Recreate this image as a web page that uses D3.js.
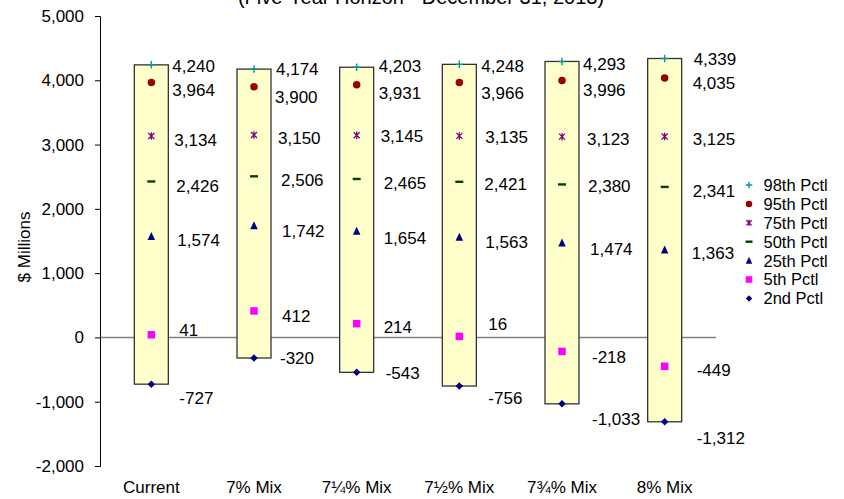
<!DOCTYPE html>
<html>
<head>
<meta charset="utf-8">
<script src="https://cdn.jsdelivr.net/npm/d3@7"></script>
<style>
  html, body { margin: 0; padding: 0; background: #fff; }
  svg { display: block; font-family: "Liberation Sans", Arial, sans-serif; }
</style>
</head>
<body>
<svg id="chart" width="844" height="499"></svg>
<script>
// Percentile outcomes by portfolio mix ($ millions)
const categories = ["Current", "7% Mix", "7\u00BC% Mix", "7\u00BD% Mix", "7\u00BE% Mix", "8% Mix"];
const pctl98 = [4240, 4174, 4203, 4248, 4293, 4339];
const pctl95 = [3964, 3900, 3931, 3966, 3996, 4035];
const pctl75 = [3134, 3150, 3145, 3135, 3123, 3125];
const pctl50 = [2426, 2506, 2465, 2421, 2380, 2341];
const pctl25 = [1574, 1742, 1654, 1563, 1474, 1363];
const pctl5  = [41, 412, 214, 16, -218, -449];
const pctl2  = [-727, -320, -543, -756, -1033, -1312];
const yTicks = [-2000, -1000, 0, 1000, 2000, 3000, 4000, 5000];
const seriesNames = ["98th Pctl", "95th Pctl", "75th Pctl", "50th Pctl", "25th Pctl", "5th Pctl", "2nd Pctl"];

const series = [
  { name: seriesNames[0], values: pctl98, shape: "plus",     color: "#009999" },
  { name: seriesNames[1], values: pctl95, shape: "circle",   color: "#990000" },
  { name: seriesNames[2], values: pctl75, shape: "star",     color: "#800080" },
  { name: seriesNames[3], values: pctl50, shape: "dash",     color: "#004000" },
  { name: seriesNames[4], values: pctl25, shape: "triangle", color: "#000080" },
  { name: seriesNames[5], values: pctl5,  shape: "square",   color: "#FF00FF" },
  { name: seriesNames[6], values: pctl2,  shape: "diamond",  color: "#000080" }
];

// Hand-placed data-label nudges [dx from bar edge, dy from marker], one row per series
const labelNudge = [
  [[4, 1], [5, 0], [5, -1], [5, 2], [4, 2], [12, 0]],
  [[4, 7], [4, 10], [5, 8], [5, 10], [4, 9], [11, 5]],
  [[6, 4], [7, 3], [7, 1], [9, 1], [8, 2], [11, 2]],
  [[8, 4], [10, 4], [10, 4], [8, 2], [9, 1], [11, 4]],
  [[9, 4], [11, 5], [10, 7], [9, 5], [11, 6], [10, 3]],
  [[11, -5], [11, 5], [10, 3], [12, -13], [13, 5], [15, 4]],
  [[11, 14], [9, 0], [12, 1], [12, 12], [13, 15], [15, 16]]
];

const svg = d3.select("#chart");
// thousands separator with a plain hyphen for negatives
const commaFmt = d3.format(",");
const fmt = (v) => commaFmt(v).replace("\u2212", "-");

const x = d3.scalePoint().domain(categories).range([100, 716]).padding(0.5);
const y = d3.scaleLinear().domain([-2000, 5000]).range([466, 16]);
const barW = 34;

// Subtitle (runs off the top edge of the chart area)
svg.append("text")
  .attr("x", 421).attr("y", 4)
  .attr("text-anchor", "middle")
  .attr("font-size", 20)
  .attr("fill", "#000")
  .text("(Five-Year Horizon - December 31, 2013)");

// Zero line
svg.append("line")
  .attr("x1", 100).attr("x2", 716)
  .attr("y1", y(0)).attr("y2", y(0))
  .attr("stroke", "#808080").attr("stroke-width", 1.5);

// Range bars from 2nd to 98th percentile
svg.append("g").selectAll("rect")
  .data(categories)
  .join("rect")
  .attr("x", (d) => x(d) - barW / 2)
  .attr("y", (d, i) => y(pctl98[i]))
  .attr("width", barW)
  .attr("height", (d, i) => y(pctl2[i]) - y(pctl98[i]))
  .attr("fill", "#FFFFCC")
  .attr("stroke", "#333")
  .attr("stroke-width", 1.3);

// Y axis
const yAxis = d3.axisLeft(y).tickValues(yTicks).tickFormat(fmt).tickSize(5).tickPadding(11);
const gy = svg.append("g").attr("transform", "translate(100,0)").call(yAxis);
gy.select(".domain").attr("stroke", "#000").attr("stroke-width", 1);
gy.selectAll(".tick line").attr("stroke", "#000");
gy.selectAll(".tick text").attr("font-size", 17).attr("fill", "#000")
  .attr("font-family", "Liberation Sans, Arial, sans-serif");

// Y axis title
svg.append("text")
  .attr("transform", "translate(30,247) rotate(-90)")
  .attr("text-anchor", "middle")
  .attr("font-size", 17)
  .attr("fill", "#000")
  .text("$ Millions");

// Category labels
svg.append("g").selectAll("text")
  .data(categories)
  .join("text")
  .attr("x", (d) => x(d))
  .attr("y", 493)
  .attr("text-anchor", "middle")
  .attr("font-size", 17)
  .attr("fill", "#000")
  .text((d) => d);

// Marker drawing
function drawMarker(g, shape, color, s) {
  const h = s / 2;
  switch (shape) {
    case "plus":
      g.append("path").attr("d", `M${-h},0H${h}M0,${-h}V${h}`)
        .attr("stroke", color).attr("stroke-width", 1.4).attr("fill", "none");
      break;
    case "circle":
      g.append("circle").attr("r", h).attr("fill", color);
      break;
    case "star":
      g.append("path").attr("d", `M${-h * 0.8},${-h * 0.8}L${h * 0.8},${h * 0.8}M${-h * 0.8},${h * 0.8}L${h * 0.8},${-h * 0.8}M0,${-h}V${h}`)
        .attr("stroke", color).attr("stroke-width", 1.3).attr("fill", "none");
      break;
    case "dash":
      g.append("path").attr("d", `M${-h},0H${h}`)
        .attr("stroke", color).attr("stroke-width", 2.4).attr("fill", "none");
      break;
    case "triangle":
      g.append("path").attr("d", `M0,${-h - 0.5}L${h},${h}L${-h},${h}Z`).attr("fill", color);
      break;
    case "square":
      g.append("rect").attr("x", -h).attr("y", -h).attr("width", s).attr("height", s).attr("fill", color);
      break;
    case "diamond":
      g.append("path").attr("d", `M0,${-h}L${h},0L0,${h}L${-h},0Z`).attr("fill", color);
      break;
  }
}

// Markers and value labels
series.forEach((sr, si) => {
  const g = svg.append("g");
  categories.forEach((c, ci) => {
    const v = sr.values[ci];
    const mg = g.append("g").attr("transform", `translate(${x(c)},${y(v)})`);
    drawMarker(mg, sr.shape, sr.color, sr.shape === "dash" ? 8 : 7.5);
    const [dx, dy] = labelNudge[si][ci];
    g.append("text")
      .attr("x", x(c) + barW / 2 + dx)
      .attr("y", y(v) + dy)
      .attr("dy", "0.36em")
      .attr("font-size", 17)
      .attr("fill", "#000")
      .text(fmt(v));
  });
});

// Legend
const legend = svg.append("g");
series.forEach((sr, si) => {
  const ly = 185 + si * 18.9;
  const mg = legend.append("g").attr("transform", `translate(749,${ly})`);
  drawMarker(mg, sr.shape, sr.color, sr.shape === "dash" ? 7 : 6.5);
  legend.append("text")
    .attr("x", 763.5).attr("y", ly)
    .attr("dy", "0.36em")
    .attr("font-size", 16.5)
    .attr("fill", "#000")
    .text(sr.name);
});
</script>
</body>
</html>
